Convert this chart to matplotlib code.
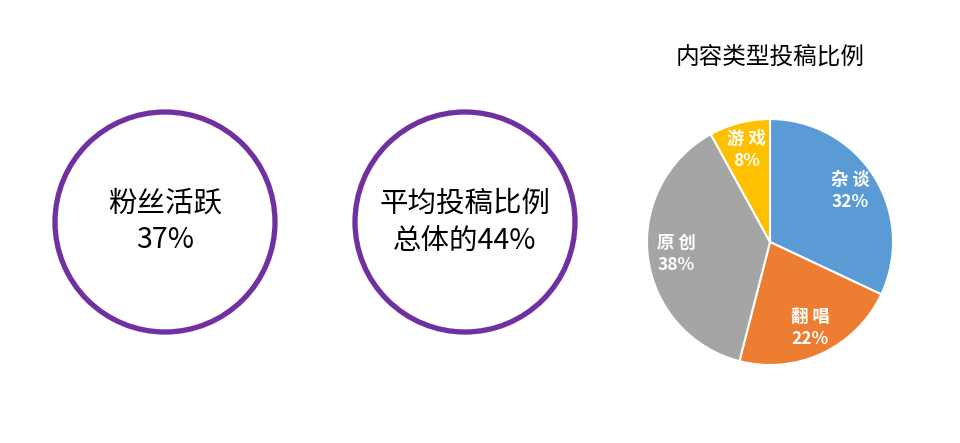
import matplotlib
matplotlib.use('Agg')
import matplotlib.pyplot as plt
from matplotlib.patches import Circle

plt.rcParams['font.family'] = ['Noto Sans CJK SC', 'DejaVu Sans']

# circle callouts
circle_texts = ['粉丝活跃\n37%', '平均投稿比例\n总体的44%']

# pie data
pie_title = '内容类型投稿比例'
pie_labels = ['杂 谈', '翻 唱', '原 创', '游 戏']
pie_values = [32, 22, 38, 8]
pie_colors = ['#5B9BD5', '#ED7D31', '#A5A5A5', '#FFC000']

W, H = 960, 443
fig = plt.figure(figsize=(W / 100, H / 100), dpi=100)
ax = fig.add_axes([0, 0, 1, 1])

# two purple rings with text
for cx, txt in zip([165, 465], circle_texts):
    ax.add_patch(Circle((cx, H - 222), 110, fill=False, edgecolor='#7030A0', linewidth=3.8))
    ax.text(cx, H - 222, txt, ha='center', va='center', fontsize=20.5,
            linespacing=1.3, color='black')

# pie chart
pie_center = (770, H - 242)
labels = [f'{n}\n{v}%' for n, v in zip(pie_labels, pie_values)]
wedges, texts = ax.pie(pie_values, labels=labels, colors=pie_colors, startangle=90,
                       counterclock=False, center=pie_center, radius=123,
                       labeldistance=0.77, frame=True,
                       wedgeprops=dict(edgecolor='white', linewidth=1.5),
                       textprops=dict(color='white', fontsize=12.5, fontweight='bold',
                                      linespacing=1.3))
for t in texts:
    t.set_ha('center')
    t.set_va('center')

ax.set_xlim(0, W)
ax.set_ylim(0, H)
ax.set_aspect('equal')
ax.axis('off')

ax.text(770, H - 57, pie_title, ha='center', va='center', fontsize=17, color='black')

fig.savefig('out.png', dpi=100)
